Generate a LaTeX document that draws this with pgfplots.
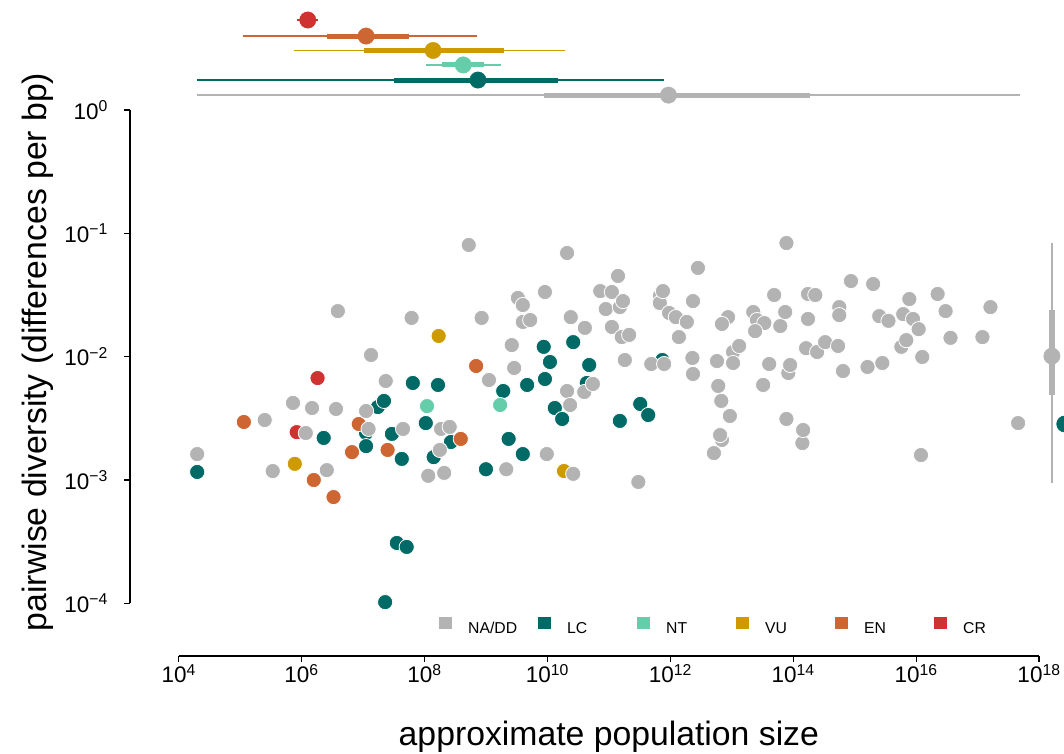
\documentclass[border=0pt]{standalone}
\usepackage{fontspec}
\setmainfont{Liberation Sans}
\usepackage{pgfplots}
\pgfplotsset{compat=1.18}
\usepackage{pgfplotstable}

\definecolor{nagray}{RGB}{179,179,179}
\definecolor{lcteal}{RGB}{0,106,102}
\definecolor{ntgreen}{RGB}{102,205,170}
\definecolor{vugold}{RGB}{205,155,0}
\definecolor{enorange}{RGB}{205,102,51}
\definecolor{crred}{RGB}{208,50,50}

\pgfplotstableread{
x y
2.0e4 1.62e-3
2.51e5 3.06e-3
3.39e5 1.18e-3
7.24e5 4.21e-3
1.48e6 3.83e-3
3.63e6 3.76e-3
1.12e7 3.62e-3
1.17e6 2.40e-3
1.23e7 2.59e-3
2.57e6 1.20e-3
3.89e6 2.34e-2
6.17e7 2.06e-2
1.35e7 1.03e-2
2.34e7 6.34e-3
4.47e7 2.59e-3
1.86e8 2.59e-3
2.57e8 2.69e-3
1.78e8 1.75e-3
1.15e8 1.08e-3
2.09e8 1.14e-3
5.25e8 8.04e-2
8.51e8 2.06e-2
1.12e9 6.46e-3
2.63e9 1.24e-2
2.88e9 8.09e-3
2.14e9 1.22e-3
3.31e9 2.99e-2
3.98e9 2.62e-2
3.98e9 1.91e-2
5.25e9 1.98e-2
9.12e9 3.34e-2
9.77e9 1.62e-3
2.09e10 6.92e-2
2.09e10 5.26e-3
2.34e10 4.05e-3
2.40e10 2.09e-2
2.63e10 1.12e-3
3.98e10 5.16e-3
4.07e10 1.71e-2
5.50e10 6.00e-3
7.24e10 3.40e-2
8.91e10 2.43e-2
1.12e11 3.34e-2
1.12e11 1.74e-2
1.41e11 4.51e-2
1.51e11 2.52e-2
1.62e11 1.44e-2
1.70e11 2.82e-2
2.14e11 1.50e-2
1.82e11 9.38e-3
3.02e11 9.62e-4
4.90e11 8.71e-3
6.76e11 3.10e-2
6.76e11 2.72e-2
7.59e11 3.40e-2
7.94e11 8.71e-3
9.55e11 2.26e-2
1.23e12 2.09e-2
1.86e12 1.91e-2
1.38e12 1.44e-2
2.29e12 9.75e-3
2.34e12 2.82e-2
2.34e12 7.23e-3
2.82e12 5.24e-2
5.13e12 1.65e-3
5.75e12 9.20e-3
6.03e12 5.78e-3
6.76e12 4.37e-3
6.92e12 2.11e-3
6.46e12 2.31e-3
8.71e12 2.09e-2
6.92e12 1.84e-2
9.33e12 3.30e-3
1.05e13 1.09e-2
1.05e13 8.87e-3
1.32e13 1.22e-2
2.24e13 2.30e-2
2.57e13 1.98e-2
3.39e13 1.87e-2
2.40e13 1.61e-2
3.24e13 5.89e-3
4.07e13 8.71e-3
4.90e13 3.16e-2
6.17e13 1.77e-2
7.41e13 2.30e-2
7.76e13 8.34e-2
7.76e13 3.12e-3
8.32e13 7.36e-3
8.91e13 8.55e-3
1.41e14 1.99e-3
1.45e14 2.54e-3
1.62e14 1.17e-2
1.74e14 3.22e-2
2.29e14 3.16e-2
1.74e14 2.02e-2
2.45e14 1.09e-2
3.31e14 1.31e-2
5.37e14 1.22e-2
5.62e14 2.52e-2
5.62e14 2.17e-2
6.46e14 7.64e-3
8.71e14 4.10e-2
1.62e15 8.24e-3
2.00e15 3.88e-2
2.51e15 2.13e-2
2.82e15 8.87e-3
3.55e15 1.95e-2
5.75e15 1.20e-2
6.17e15 2.21e-2
6.92e15 1.36e-2
7.76e15 2.93e-2
8.91e15 2.02e-2
1.10e16 1.67e-2
1.20e16 1.59e-3
1.26e16 9.93e-3
2.24e16 3.22e-2
3.02e16 2.34e-2
3.63e16 1.42e-2
1.20e17 1.44e-2
1.62e17 2.52e-2
4.57e17 2.89e-3
}\nadata

\pgfplotstableread{
x y
2.0e4 1.16e-3
2.29e6 2.19e-3
1.12e7 2.40e-3
1.12e7 1.88e-3
1.74e7 3.90e-3
2.19e7 4.37e-3
2.95e7 2.36e-3
4.27e7 1.48e-3
6.46e7 6.11e-3
1.66e8 5.89e-3
1.05e8 2.89e-3
1.41e8 1.53e-3
2.69e8 2.03e-3
3.55e7 3.08e-4
5.13e7 2.86e-4
2.29e7 1.02e-4
1.0e9 1.22e-3
1.91e9 5.26e-3
2.34e9 2.15e-3
3.98e9 1.62e-3
4.68e9 5.89e-3
8.71e9 1.20e-2
9.12e9 6.58e-3
1.10e10 9.04e-3
1.32e10 3.83e-3
1.74e10 3.12e-3
2.63e10 1.31e-2
4.37e10 6.11e-3
4.79e10 8.55e-3
1.51e11 3.01e-3
3.24e11 4.13e-3
4.37e11 3.36e-3
7.41e11 9.38e-3
}\lcdata

\pgfplotstableread{
x y
1.10e8 3.97e-3
1.70e9 4.05e-3
}\ntdata

\pgfplotstableread{
x y
7.76e5 1.35e-3
1.70e8 1.47e-2
1.86e10 1.18e-3
}\vudata

\pgfplotstableread{
x y
1.15e5 2.95e-3
8.51e6 2.84e-3
6.61e6 1.68e-3
2.51e7 1.75e-3
1.58e6 9.98e-4
3.31e6 7.26e-4
6.92e8 8.39e-3
3.89e8 2.15e-3
}\endata

\pgfplotstableread{
x y
1.82e6 6.70e-3
8.32e5 2.44e-3
}\crdata

\begin{document}
\begin{tikzpicture}
\useasboundingbox (-130pt,-97pt) rectangle (934pt,656pt);
\begin{axis}[
  xmode=log, ymode=log,
  scale only axis, width=909pt, height=546pt,
  xmin=1613, xmax=1e18, ymin=3.73e-5, ymax=1,
  clip=false,
  axis lines*=left,
  axis line style={draw=none},
  tick align=outside,
  major tick length=6pt,
  tick style={black, line width=1.2pt},
  xminorticks=false, yminorticks=false,
  xtick={1e4,1e6,1e8,1e10,1e12,1e14,1e16,1e18},
  xticklabels={10\textsuperscript{4},10\textsuperscript{6},10\textsuperscript{8},10\textsuperscript{10},10\textsuperscript{12},10\textsuperscript{14},10\textsuperscript{16},10\textsuperscript{18}},
  ytick={1e-4,1e-3,1e-2,1e-1,1},
  yticklabels={10\textsuperscript{−4},10\textsuperscript{−3},10\textsuperscript{−2},10\textsuperscript{−1},10\textsuperscript{0}},
  ticklabel style={font=\fontsize{22.5}{27}\selectfont},
  xticklabel style={anchor=base, inner sep=0pt, yshift=-21pt},
  yticklabel style={anchor=east, inner sep=0pt, xshift=-16pt},
  xlabel={approximate population size},
  ylabel={pairwise diversity (differences per bp)},
  every axis x label/.style={at={(axis description cs:0.5268,-0.1648)}, anchor=base, font=\fontsize{33.75}{40}\selectfont},
  every axis y label/.style={at={(axis description cs:-0.0924,0.557)}, anchor=base, rotate=90, font=\fontsize{33.75}{40}\selectfont},
  legend columns=6,
  legend image code/.code={\fill (0pt,-0.7pt) rectangle (12.6pt,11.9pt);},
  legend style={draw=none, fill=none, at={(0.3396,0.0549)}, anchor=west,
    font=\fontsize{15.75}{18}\selectfont, inner sep=0pt, nodes={inner sep=0pt},
    /tikz/every odd column/.append style={column sep=16.7pt}},
  sumpt/.style={only marks, mark=*, mark size=8.2pt, color=#1, mark options={solid, fill=#1, draw=none}, forget plot},
  dot/.style={only marks, mark=*, mark size=7.6pt, color=#1, mark options={solid, fill=#1, draw=white, line width=0.8pt}, forget plot},
]
% range frame axis lines
\draw[black, line width=1.2pt] (axis cs:1e4,3.73e-5) -- (axis cs:1e18,3.73e-5);
\draw[black, line width=1.2pt] (axis cs:1613,1e-4) -- (axis cs:1613,1);

% summary ranges (top)
\addplot[nagray, line width=1.5pt, forget plot] coordinates {(1.95e4,1.32) (4.90e17,1.32)};
\addplot[nagray, line width=5pt, forget plot] coordinates {(8.91e9,1.32) (1.86e14,1.32)};
\addplot[sumpt=nagray] coordinates {(9.33e11,1.32)};

\addplot[lcteal, line width=1.5pt, forget plot] coordinates {(1.95e4,1.75) (7.94e11,1.75)};
\addplot[lcteal, line width=5pt, forget plot] coordinates {(3.16e7,1.75) (1.51e10,1.75)};
\addplot[sumpt=lcteal] coordinates {(7.41e8,1.75)};

\addplot[ntgreen, line width=1.5pt, forget plot] coordinates {(1.07e8,2.32) (1.78e9,2.32)};
\addplot[ntgreen, line width=5pt, forget plot] coordinates {(1.95e8,2.32) (9.33e8,2.32)};
\addplot[sumpt=ntgreen] coordinates {(4.27e8,2.32)};

\addplot[vugold, line width=1.5pt, forget plot] coordinates {(7.41e5,3.04) (1.95e10,3.04)};
\addplot[vugold, line width=5pt, forget plot] coordinates {(1.05e7,3.04) (2.0e9,3.04)};
\addplot[sumpt=vugold] coordinates {(1.38e8,3.04)};

\addplot[enorange, line width=1.5pt, forget plot] coordinates {(1.10e5,3.98) (7.24e8,3.98)};
\addplot[enorange, line width=5pt, forget plot] coordinates {(2.57e6,3.98) (5.62e7,3.98)};
\addplot[sumpt=enorange] coordinates {(1.12e7,3.98)};

\addplot[crred, line width=1.5pt, forget plot] coordinates {(8.32e5,5.37) (1.86e6,5.37)};
\addplot[sumpt=crred] coordinates {(1.26e6,5.37)};

% summary ranges (right)
\addplot[nagray, line width=1.8pt, forget plot] coordinates {(1.62e18,8.34e-2) (1.62e18,9.44e-4)};
\addplot[nagray, line width=5.5pt, forget plot] coordinates {(1.62e18,2.39e-2) (1.62e18,4.89e-3)};
\addplot[sumpt=nagray] coordinates {(1.62e18,1.01e-2)};
\addplot[sumpt=lcteal] coordinates {(2.63e18,2.84e-3)};

% scatter
\addplot[dot=lcteal] table {\lcdata};
\addplot[dot=ntgreen] table {\ntdata};
\addplot[dot=vugold] table {\vudata};
\addplot[dot=enorange] table {\endata};
\addplot[dot=crred] table {\crdata};
\addplot[dot=nagray] table {\nadata};

% legend
\addlegendimage{fill=nagray, draw=none}
\addlegendentry{\makebox[69.7pt][l]{NA/DD}}
\addlegendimage{fill=lcteal, draw=none}
\addlegendentry{\makebox[69.7pt][l]{LC}}
\addlegendimage{fill=ntgreen, draw=none}
\addlegendentry{\makebox[69.7pt][l]{NT}}
\addlegendimage{fill=vugold, draw=none}
\addlegendentry{\makebox[69.7pt][l]{VU}}
\addlegendimage{fill=enorange, draw=none}
\addlegendentry{\makebox[69.7pt][l]{EN}}
\addlegendimage{fill=crred, draw=none}
\addlegendentry{\makebox[69.7pt][l]{CR}}
\end{axis}
\end{tikzpicture}
\end{document}
